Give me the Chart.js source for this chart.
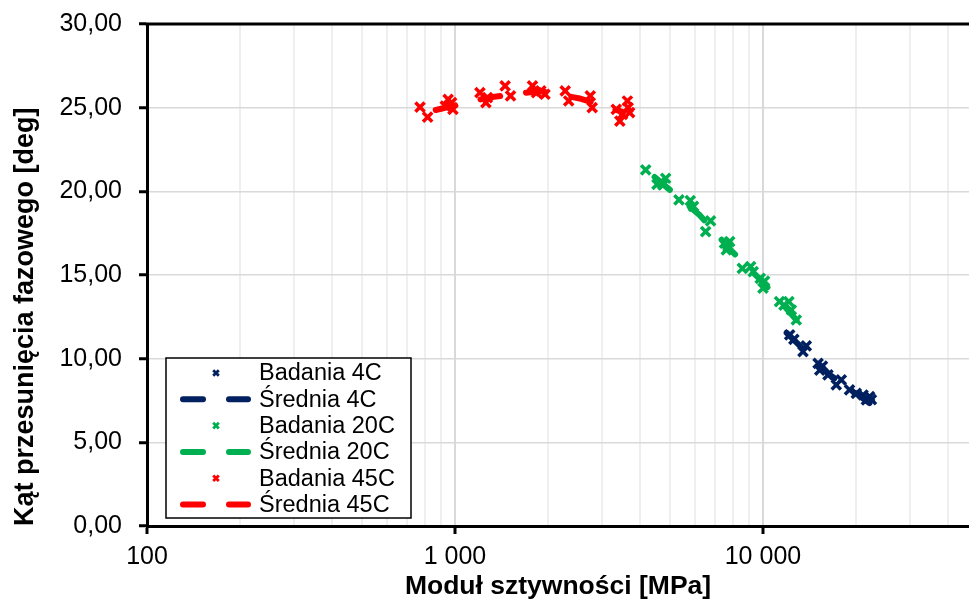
<!DOCTYPE html>
<html>
<head>
<meta charset="utf-8">
<script src="https://cdn.jsdelivr.net/npm/chart.js@4.4.1/dist/chart.umd.min.js"></script>
<style>
  html, body { margin: 0; padding: 0; background: #fff; }
</style>
</head>
<body>
<canvas id="chart" width="969" height="605"></canvas>
<script>
// measured points (modulus MPa, phase angle deg)
const bad4X = [12210, 12600, 13490, 13830, 15100, 15290, 15600, 16260, 17300, 17960, 19100, 20100, 21140, 21670, 22200, 22500];
const bad4Y = [11.42, 11.15, 10.42, 10.76, 9.72, 9.32, 9.55, 9.03, 8.43, 8.73, 8.13, 7.93, 7.83, 7.53, 7.73, 7.55];
const sr4X = [11940, 16480, 22190];
const sr4Y = [11.54, 9.03, 7.35];

const bad20X = [4161, 4528, 4650, 4733, 4831, 5336, 5808, 5950, 6515, 6761, 7500, 7605, 7797, 7700, 8570, 9120, 9300, 9800, 10000, 10120, 11320, 11700, 12140, 12370, 12830];
const bad20Y = [21.28, 20.42, 20.55, 20.38, 20.78, 19.49, 19.45, 19.1, 17.59, 18.23, 16.9, 16.5, 16.99, 16.7, 15.4, 15.5, 15.2, 14.8, 14.21, 14.64, 13.41, 13.2, 13.41, 12.91, 12.31];
const sr20X = [4449, 6223, 7963, 10120, 12850];
const sr20Y = [20.86, 18.59, 16.38, 14.47, 12.31];

const bad45X = [770, 815, 930, 950, 975, 985, 1205, 1260, 1275, 1455, 1515, 1785, 1840, 1900, 1960, 2280, 2340, 2750, 2790, 3340, 3430, 3500, 3630, 3650, 3690];
const bad45Y = [25.03, 24.43, 25.1, 25.5, 25.3, 24.9, 25.9, 25.3, 25.6, 26.3, 25.7, 26.3, 25.9, 26.0, 25.8, 26.0, 25.4, 25.7, 25.0, 24.9, 24.2, 24.6, 25.4, 25.0, 24.7];
const sr45X = [866, 1280, 1880, 2540, 3500];
const sr45Y = [24.86, 25.6, 26.0, 25.55, 24.75];

const xLabels = [100, 1000, 10000];

const NAVY = '#002060', GREEN = '#00B050', RED = '#FF0000';
const FONT = "'Liberation Sans', Arial, sans-serif";

function pts(xs, ys) {
  return xs.map((x, i) => ({ x: x, y: ys[i] }));
}

function badania(label, xs, ys, color) {
  return {
    label: label, data: pts(xs, ys),
    pointStyle: 'crossRot', pointRadius: 6.5, pointHoverRadius: 6.5,
    pointBorderWidth: 3.5, borderColor: color, backgroundColor: color,
    showLine: false
  };
}

function srednia(label, xs, ys, color) {
  return {
    label: label, data: pts(xs, ys),
    showLine: true, borderColor: color, backgroundColor: color,
    borderWidth: 6, borderDash: [20, 26], borderCapStyle: 'round',
    pointRadius: 0, pointHoverRadius: 0, tension: 0, fill: false
  };
}

function fmtThousands(v) {
  return String(v).replace(/\B(?=(\d{3})+(?!\d))/g, ' ');
}

function mantissa(v) {
  return v / Math.pow(10, Math.floor(Math.log10(v) + 1e-9));
}

// top frame line + boxed legend like the original
const frame = {
  id: 'frame',
  afterDraw(chart) {
    const ctx = chart.ctx, a = chart.chartArea;
    ctx.save();
    ctx.strokeStyle = '#000';
    ctx.lineWidth = 3;
    ctx.beginPath();
    ctx.moveTo(a.left - 1.5, a.top);
    ctx.lineTo(a.right, a.top);
    ctx.stroke();

    const bx = a.left + 19, by = a.bottom - 168, bw = 245, bh = 160;
    ctx.fillStyle = '#fff';
    ctx.fillRect(bx, by, bw, bh);
    ctx.lineWidth = 1.5;
    ctx.strokeRect(bx, by, bw, bh);

    ctx.font = '23.5px ' + FONT;
    ctx.textBaseline = 'middle';
    ctx.textAlign = 'left';
    chart.data.datasets.forEach((ds, i) => {
      const cy = by + 15 + i * 26.3;
      const c = ds.borderColor;
      ctx.strokeStyle = c;
      if (ds.showLine) {
        ctx.lineWidth = 6;
        ctx.lineCap = 'round';
        ctx.beginPath();
        ctx.moveTo(bx + 17, cy); ctx.lineTo(bx + 37, cy);
        ctx.moveTo(bx + 63, cy); ctx.lineTo(bx + 82, cy);
        ctx.stroke();
      } else {
        ctx.lineWidth = 2.8;
        ctx.lineCap = 'butt';
        const r = 2.8, cx = bx + 50;
        ctx.beginPath();
        ctx.moveTo(cx - r, cy - r); ctx.lineTo(cx + r, cy + r);
        ctx.moveTo(cx + r, cy - r); ctx.lineTo(cx - r, cy + r);
        ctx.stroke();
      }
      ctx.fillStyle = '#000';
      ctx.fillText(ds.label, bx + 93, cy + 1);
    });
    ctx.restore();
  }
};

new Chart(document.getElementById('chart'), {
  type: 'scatter',
  data: {
    datasets: [
      badania('Badania 4C', bad4X, bad4Y, NAVY),
      srednia('Średnia 4C', sr4X, sr4Y, NAVY),
      badania('Badania 20C', bad20X, bad20Y, GREEN),
      srednia('Średnia 20C', sr20X, sr20Y, GREEN),
      badania('Badania 45C', bad45X, bad45Y, RED),
      srednia('Średnia 45C', sr45X, sr45Y, RED)
    ]
  },
  options: {
    responsive: false,
    animation: false,
    layout: { autoPadding: false, padding: { top: 24, right: 0, left: 0, bottom: 0 } },
    plugins: {
      legend: { display: false },
      tooltip: { enabled: false }
    },
    scales: {
      x: {
        type: 'logarithmic',
        min: 100,
        max: 46670,
        afterFit(s) { s.height = 79; s.paddingLeft = 0; s.paddingRight = 0; },
        border: { color: '#000', width: 3 },
        grid: {
          color: c => {
            const v = c.tick ? c.tick.value : 0;
            if (xLabels.includes(v)) return '#d9d9d9';
            const m = mantissa(v);
            return Math.abs(m - Math.round(m)) < 1e-6 ? '#efefef' : 'rgba(0,0,0,0)';
          },
          lineWidth: 2,
          tickLength: 8,
          tickWidth: 3,
          tickColor: c => (c.tick && xLabels.includes(c.tick.value)) ? '#000' : 'rgba(0,0,0,0)'
        },
        ticks: {
          autoSkip: false,
          maxRotation: 0,
          color: '#000',
          padding: 8,
          font: { family: FONT, size: 25 },
          callback: v => xLabels.includes(v) ? fmtThousands(v) : ''
        },
        title: {
          display: true,
          text: 'Moduł sztywności [MPa]',
          color: '#000',
          font: { family: FONT, size: 26.5, weight: 'bold' },
          padding: { top: 0, bottom: 2 }
        }
      },
      y: {
        min: 0,
        max: 30,
        afterFit(s) { s.width = 147; s.paddingTop = 0; s.paddingBottom = 0; },
        border: { color: '#000', width: 3 },
        grid: {
          color: '#d9d9d9',
          lineWidth: 1.5,
          tickLength: 8,
          tickWidth: 3,
          tickColor: '#000'
        },
        ticks: {
          stepSize: 5,
          color: '#000',
          padding: 17,
          font: { family: FONT, size: 25 },
          callback: v => v.toFixed(2).replace('.', ',')
        },
        title: {
          display: true,
          align: 'start',
          text: 'Kąt przesunięcia fazowego [deg]',
          color: '#000',
          font: { family: FONT, size: 27, weight: 'bold' },
          padding: { top: 9, bottom: 9 }
        }
      }
    }
  },
  plugins: [frame]
});
</script>
</body>
</html>
